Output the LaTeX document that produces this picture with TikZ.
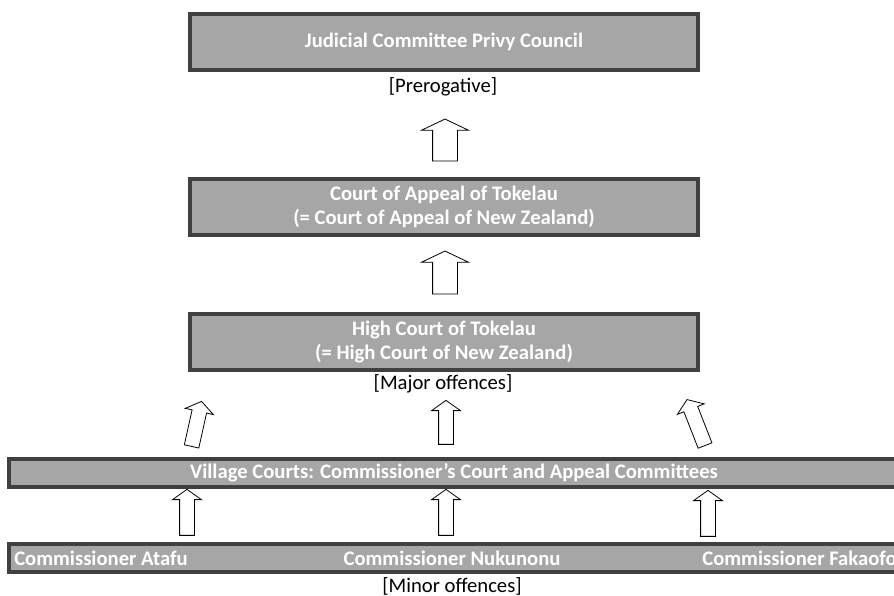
\documentclass[tikz,border=0pt]{standalone}
\usepackage{fontspec}
\setmainfont{Carlito}
\usetikzlibrary{shapes.arrows,calc}
\definecolor{boxfill}{HTML}{A6A6A6}
\definecolor{boxline}{HTML}{404040}
\tikzset{
  court/.style={draw=boxline, fill=boxfill, line width=3pt, text=white,
    font=\bfseries\fontsize{15.5}{18}\selectfont, align=center, inner sep=0pt},
  commtext/.style={text=white, font=\bfseries\fontsize{15.5}{18}\selectfont, inner sep=0pt},
  note/.style={font=\fontsize{15.5}{18}\selectfont, inner sep=0pt},
  bigarrow/.style={single arrow, draw, fill=white, line width=0.6pt,
    inner xsep=0pt, inner ysep=9pt, single arrow head extend=8.25pt, single arrow tip angle=129},
  smallarrow/.style={single arrow, draw, fill=white, line width=0.6pt,
    inner xsep=0pt, inner ysep=5.25pt, single arrow head extend=5.25pt, single arrow tip angle=109}
}
% block arrow from #2 to #3
\newcommand{\lift}[3]{\path let \p1=($(#3)-(#2)$), \n1={atan2(\y1,\x1)},
  \n2={veclen(\x1,\y1)} in ($(#2)!0.5!(#3)$) node[#1, rotate=\n1, minimum height=\n2] {};}

\begin{document}
\begin{tikzpicture}[x=0.75pt,y=-0.75pt]
\clip (0,0) rectangle (894,596);

% courts
\node[court, minimum width=381pt, minimum height=42pt] (jcpc) at (444,42) {Judicial Committee Privy Council};
\node[note] (prerog) at (443,87) {[Prerogative]};

\node[court, minimum width=381pt, minimum height=42pt] (appeal) at (444,207)
  {Court of Appeal of Tokelau\\(= Court of Appeal of New Zealand)};

\node[court, minimum width=381pt, minimum height=42pt] (high) at (444,342)
  {High Court of Tokelau\\(= High Court of New Zealand)};
\node[note] (major) at (443,384) {[Major offences]};

\node[court, minimum width=667.5pt, minimum height=21pt] (village) at (454,473)
  {Village Courts: Commissioner's Court and Appeal Committees};

\node[court, minimum width=667.5pt, minimum height=21pt] (comm) at (454,558) {};
\node[commtext, anchor=west] (atafu) at (14,558) {Commissioner Atafu};
\node[commtext] (nukunonu) at (452,558) {Commissioner Nukunonu};
\node[commtext, anchor=east] (fakaofo) at (897,558) {Commissioner Fakaofo};
\node[note] (minor) at (452,586) {[Minor offences]};

% arrow ends
\coordinate (a1) at (445,164); \coordinate (b1) at (445,122);
\coordinate (a2) at (445,297); \coordinate (b2) at (445,254);
\coordinate (a3) at (191,449); \coordinate (b3) at (201,404);
\coordinate (a4) at (446,447); \coordinate (b4) at (446,403);
\coordinate (a5) at (706,448); \coordinate (b5) at (688,402);
\coordinate (a6) at (187,538); \coordinate (b6) at (187,492);
\coordinate (a7) at (446,538); \coordinate (b7) at (446,492);
\coordinate (a8) at (708,539); \coordinate (b8) at (708,493);

\lift{bigarrow}{a1}{b1}
\lift{bigarrow}{a2}{b2}
\lift{smallarrow}{a3}{b3}
\lift{smallarrow}{a4}{b4}
\lift{smallarrow}{a5}{b5}
\lift{smallarrow}{a6}{b6}
\lift{smallarrow}{a7}{b7}
\lift{smallarrow}{a8}{b8}
\end{tikzpicture}
\end{document}
